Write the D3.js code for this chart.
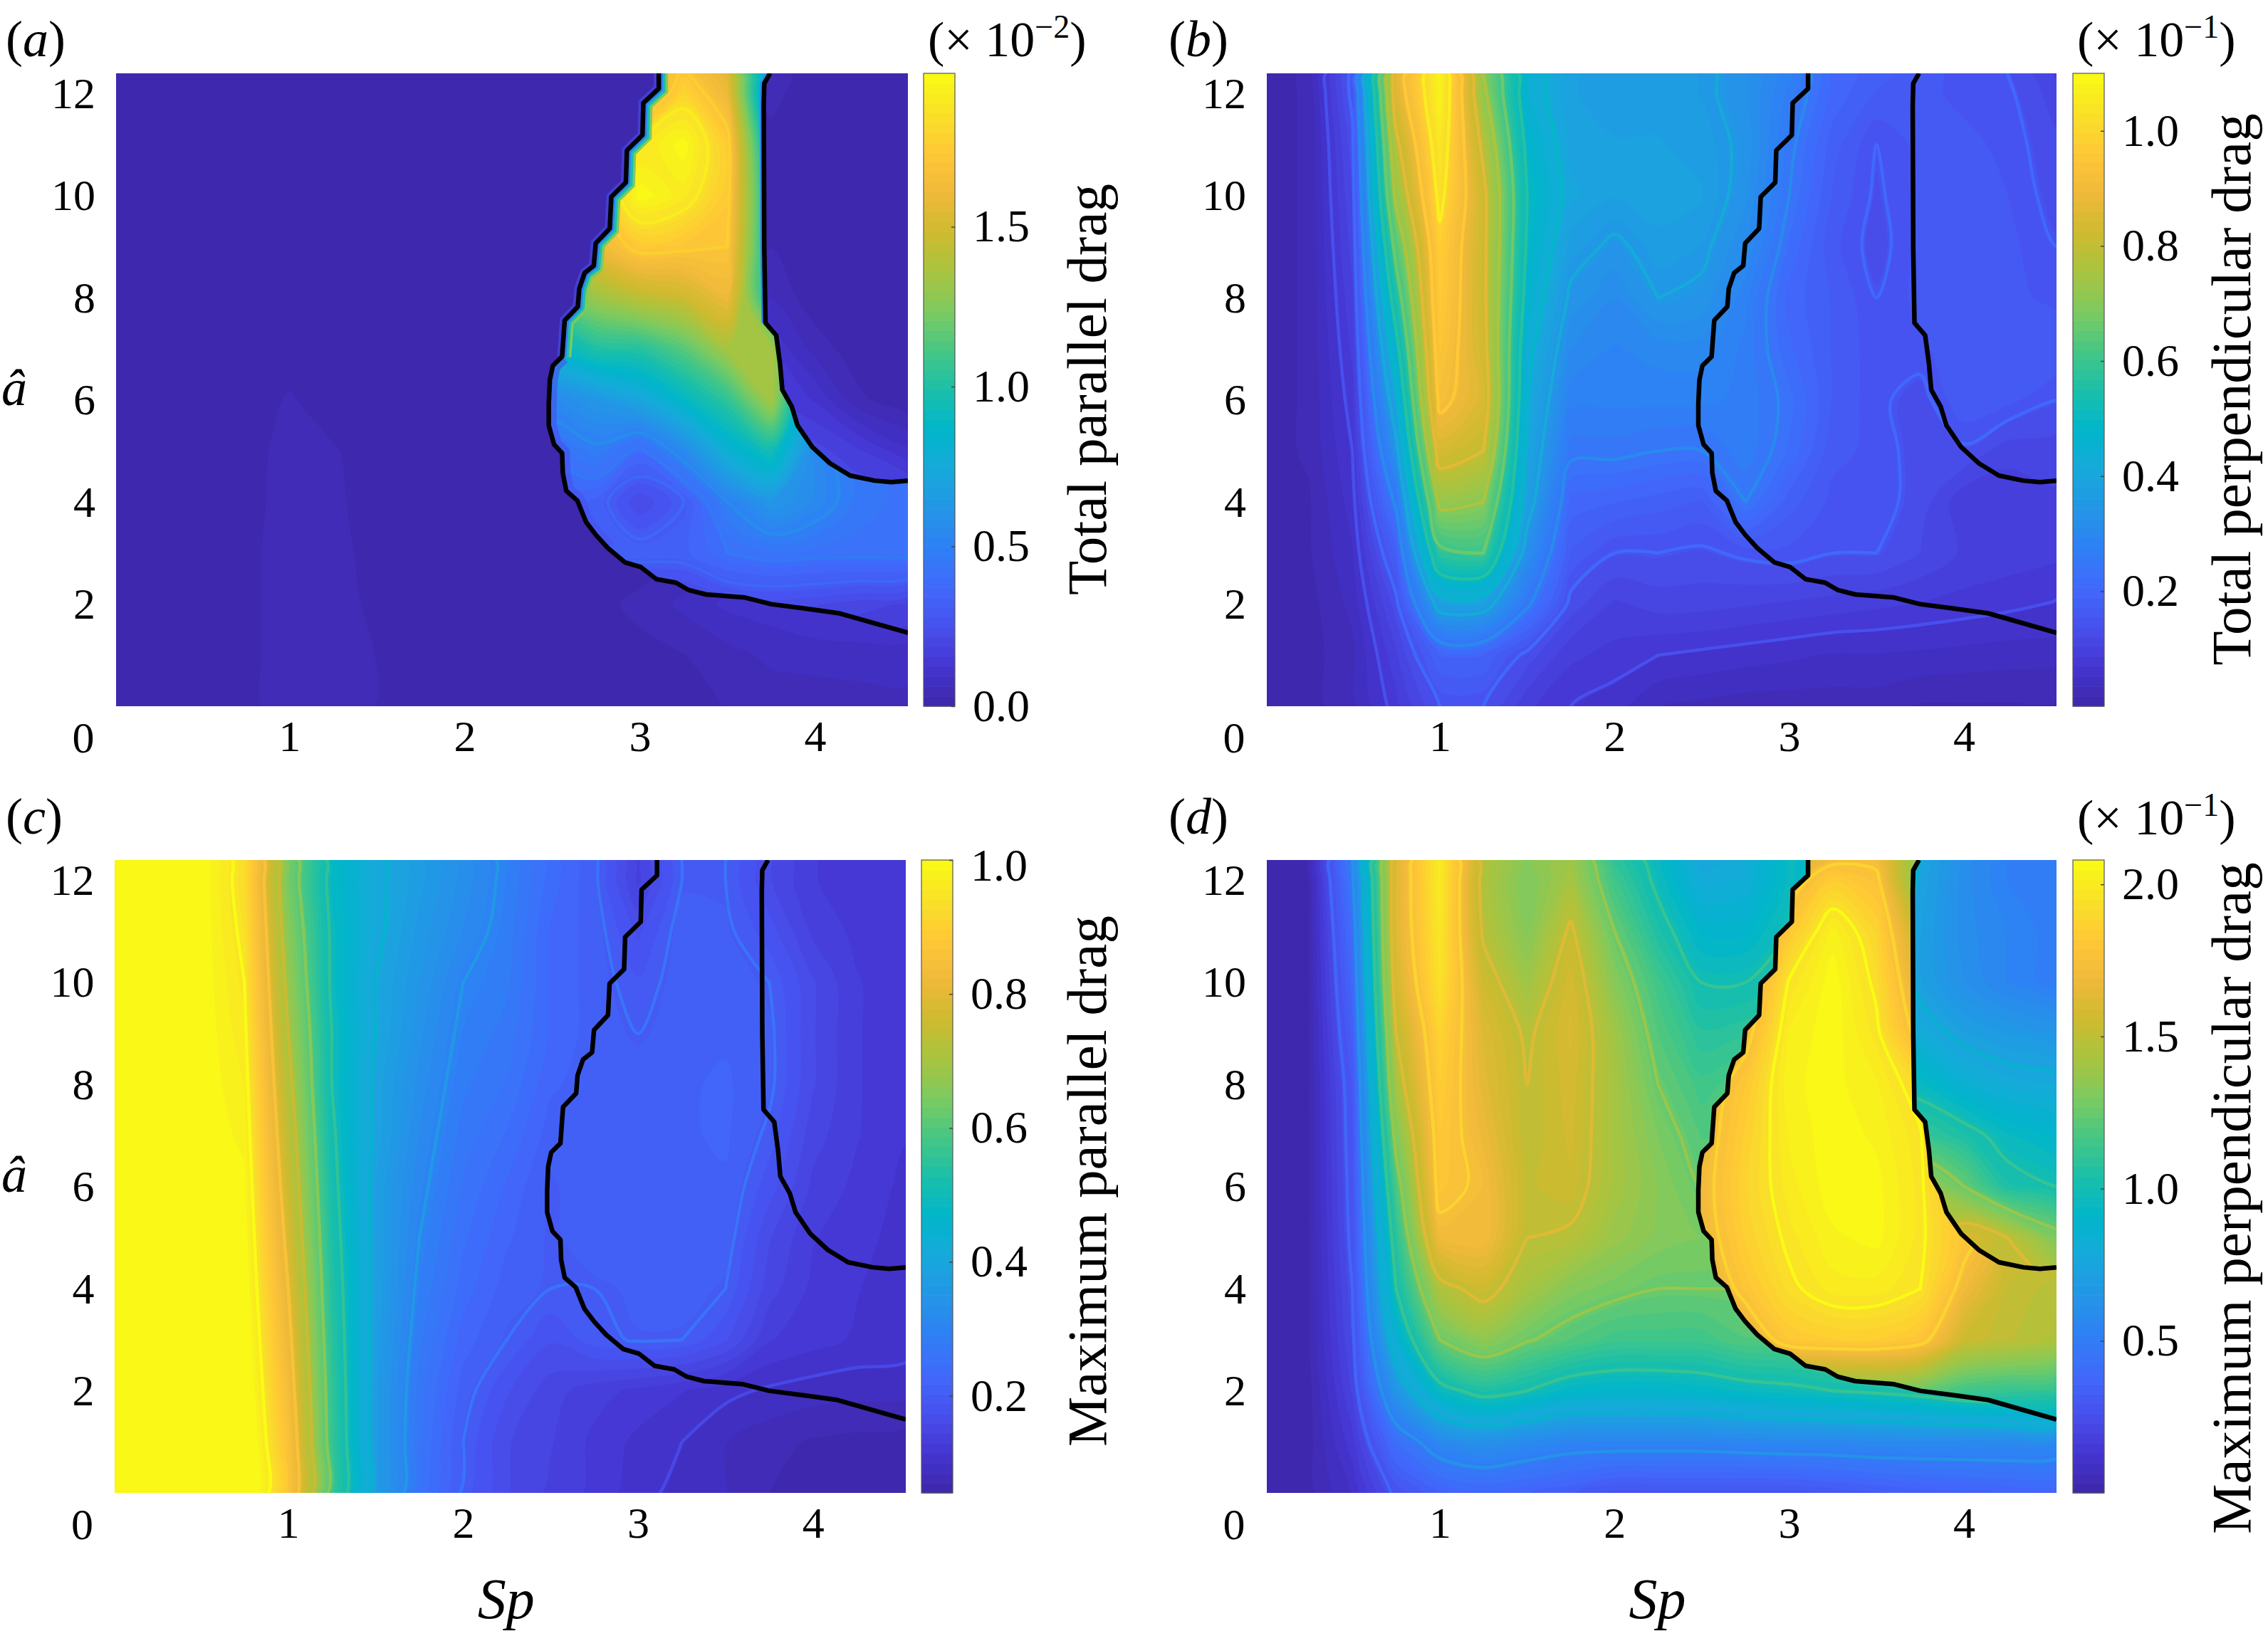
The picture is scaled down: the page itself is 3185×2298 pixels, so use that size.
<!DOCTYPE html>
<html>
<head>
<meta charset="utf-8">
<title>Drag maps</title>
<script src="https://cdn.jsdelivr.net/npm/d3@7"></script>
<style>
  body { margin: 0; background: #fff; }
  text { font-family: "Liberation Serif", serif; fill: #000; }
</style>
</head>
<body>
<svg id="chart" width="3185" height="2298" xmlns="http://www.w3.org/2000/svg"></svg>
<script>
// grid positions of the values
var spCols = [0.01, 0.25, 0.5, 0.75, 1, 1.25, 1.5, 1.75, 2, 2.25, 2.5, 2.75, 3, 3.25, 3.5, 3.75, 4, 4.25, 4.53];
var aRows = [12.4, 12, 11, 10, 9, 8, 7, 6, 5, 4, 3, 2, 1, 0];
var insideCols = [2.25, 2.5, 2.75, 3, 3.25, 3.5, 3.75, 4, 4.25, 4.53];
var insideRows = [12.4, 12, 11, 10, 9, 8, 7, 6, 5, 4, 3, 2, 1];

var xTicks = [1, 2, 3, 4];
var yTicks = [2, 4, 6, 8, 10, 12];

// black boundary, both branches run from the top edge to the right edge
var lowerBranch = [[3.108,12.4],[3.108,12.1],[3.02,11.82],[3.015,11.19],[2.926,10.89],[2.92,10.26],[2.837,9.98],[2.828,9.36],[2.748,9.07],[2.737,8.63],[2.685,8.49],[2.654,8.18],[2.646,7.83],[2.571,7.56],[2.556,6.85],[2.503,6.67],[2.486,6.39],[2.48,5.92],[2.48,5.5],[2.51,5.13],[2.556,4.96],[2.56,4.57],[2.58,4.22],[2.643,4.03],[2.693,3.61],[2.748,3.36],[2.817,3.1],[2.914,2.82],[3.004,2.73],[3.094,2.49],[3.206,2.42],[3.276,2.28],[3.378,2.19],[3.6,2.13],[3.75,2.0],[3.95,1.91],[4.14,1.82],[4.53,1.44]];
var upperBranch = [[3.743,12.4],[3.71,12.2],[3.707,11.79],[3.71,8.99],[3.717,7.51],[3.778,7.27],[3.8,6.71],[3.813,6.2],[3.867,5.87],[3.9,5.5],[3.984,5.08],[4.085,4.76],[4.2,4.52],[4.34,4.42],[4.435,4.39],[4.53,4.42]];

// parula colour stops
var parulaStops = ["#3d26a8","#4435d0","#4850ee","#4069fb","#2f80f5","#2296e6","#17a9da","#01b6ca","#1bbfa9","#46c785","#7dca5f","#a9c43f","#cfba2f","#f0b93a","#ffc836","#f9e127","#f9fb15"];

// (a) total parallel drag x 1e-2
var aOutside = [
  [.01,.01,.01,.01,.01,.01,.01,.01,.01,.01,.01,.01,.01,.01,.01,.05,.01,.01,.01],
  [.01,.01,.01,.01,.01,.01,.01,.01,.01,.01,.01,.01,.01,.01,.01,.04,.01,.01,.01],
  [.01,.01,.01,.01,.01,.01,.01,.01,.01,.01,.01,.01,.01,.01,.01,.02,.01,.01,.01],
  [.01,.01,.01,.01,.01,.01,.01,.01,.01,.01,.01,.01,.01,.01,.01,.02,.01,.01,.01],
  [.01,.01,.01,.01,.01,.01,.01,.01,.01,.01,.01,.01,.01,.01,.01,.03,.01,.01,.01],
  [.01,.01,.01,.01,.01,.01,.01,.01,.01,.01,.01,.01,.01,.01,.02,.06,.01,.01,.01],
  [.01,.01,.01,.01,.01,.01,.01,.01,.01,.01,.01,.01,.01,.01,.03,.12,.05,.01,.01],
  [.01,.01,.01,.01,.035,.01,.01,.01,.01,.01,.01,.01,.01,.01,.05,.16,.12,.04,.005],
  [.01,.01,.01,.01,.05,.035,.01,.01,.01,.01,.01,.01,.01,.01,.05,.2,.2,.16,.1],
  [.01,.01,.01,.015,.05,.04,.01,.01,.01,.01,.01,.01,.01,.01,.05,.2,.2,.22,.22],
  [.01,.01,.01,.02,.05,.045,.015,.01,.01,.01,.01,.01,.01,.03,.06,.1,.12,.15,.15],
  [.01,.01,.01,.02,.05,.05,.02,.01,.01,.01,.01,.02,.04,.07,.1,.11,.12,.13,.13],
  [.01,.01,.01,.02,.05,.05,.03,.01,.01,.01,.01,.01,.02,.03,.05,.07,.08,.08,.08],
  [.01,.01,.01,.02,.05,.05,.03,.01,.01,.01,.01,.01,.005,.005,.035,.04,.035,.045,.05]
];
var aInside = [
  [1.4,1.4,1.4,1.55,1.72,1.55,.6,.5,.5,.5],
  [1.3,1.3,1.3,1.5,1.8,1.6,.6,.5,.5,.5],
  [1.5,1.5,1.6,1.88,1.97,1.75,.8,.5,.5,.5],
  [1.4,1.5,1.7,1.97,1.9,1.74,.9,.5,.5,.5],
  [1.3,1.4,1.6,1.74,1.72,1.7,.9,.5,.5,.5],
  [1.1,1.15,1.32,1.42,1.48,1.6,.95,.6,.5,.5],
  [.8,.85,1,1.02,1.15,1.35,1.35,.6,.5,.5],
  [.55,.55,.62,.72,.88,1.05,1.35,.6,.5,.5],
  [.42,.42,.48,.38,.55,.8,.95,.55,.45,.42],
  [.3,.35,.33,.22,.3,.5,.62,.55,.45,.42],
  [.2,.25,.33,.33,.33,.4,.43,.42,.42,.42],
  [.1,.1,.12,.16,.18,.22,.23,.22,.2,.18],
  [.05,.05,.05,.08,.1,.12,.14,.14,.13,.12]
];

// (b) total perpendicular drag x 1e-1
var bField = [
  [.01,.02,.15,.85,1.08,.7,.45,.38,.37,.37,.36,.33,.28,.2,.18,.16,.15,.14,.1],
  [.01,.02,.15,.85,1.08,.72,.45,.38,.37,.37,.36,.33,.27,.2,.17,.16,.15,.145,.11],
  [.01,.02,.13,.78,1.05,.78,.48,.39,.38,.38,.37,.34,.25,.18,.14,.16,.16,.15,.125],
  [.01,.02,.12,.72,1.02,.82,.5,.4,.38,.39,.38,.33,.24,.17,.135,.16,.17,.155,.13],
  [.01,.02,.11,.63,.98,.82,.49,.37,.34,.37,.36,.31,.22,.16,.13,.16,.17,.16,.14],
  [.01,.02,.1,.55,.97,.82,.47,.34,.31,.35,.34,.28,.2,.17,.14,.16,.17,.16,.15],
  [.01,.02,.09,.47,.95,.83,.44,.31,.29,.3,.3,.27,.21,.17,.145,.15,.17,.17,.17],
  [.01,.02,.08,.4,.92,.85,.42,.28,.28,.28,.28,.27,.23,.17,.145,.13,.17,.16,.14],
  [.01,.02,.07,.33,.84,.8,.4,.25,.25,.24,.24,.27,.22,.16,.15,.13,.135,.11,.11],
  [.01,.015,.06,.25,.72,.7,.38,.2,.19,.18,.17,.24,.18,.15,.15,.13,.09,.09,.1],
  [.01,.015,.05,.18,.58,.6,.32,.17,.14,.14,.135,.145,.15,.14,.14,.12,.1,.095,.09],
  [.01,.01,.04,.13,.38,.38,.25,.13,.1,.11,.11,.105,.1,.095,.09,.085,.08,.075,.068],
  [.01,.01,.03,.1,.19,.19,.13,.09,.08,.07,.065,.06,.055,.05,.05,.048,.045,.042,.04],
  [.01,.01,.03,.08,.14,.14,.09,.07,.06,.035,.03,.025,.025,.025,.025,.015,.015,.015,.015]
];

// (c) maximum parallel drag
var cField = [
  [1,1,1,.93,.64,.48,.41,.37,.33,.29,.24,.205,.14,.2,.2,.16,.13,.12,.115],
  [1,1,1,.93,.64,.48,.41,.37,.33,.29,.24,.205,.14,.2,.2,.16,.13,.12,.115],
  [1,1,1,.94,.66,.49,.41,.36,.32,.285,.23,.21,.17,.21,.205,.18,.14,.125,.118],
  [1,1,1,.95,.68,.49,.4,.35,.3,.28,.23,.21,.19,.21,.21,.2,.16,.13,.12],
  [1,1,1,.96,.7,.5,.4,.34,.29,.27,.23,.21,.2,.21,.215,.205,.16,.13,.12],
  [1,1,1,.97,.72,.5,.39,.33,.28,.26,.22,.21,.21,.215,.22,.205,.16,.13,.12],
  [1,1,1,.98,.74,.51,.39,.32,.27,.245,.21,.215,.215,.215,.22,.195,.15,.13,.115],
  [1,1,1,.99,.76,.52,.38,.31,.26,.23,.2,.215,.215,.215,.215,.18,.14,.125,.11],
  [1,1,1,1,.78,.53,.38,.3,.25,.22,.2,.21,.21,.21,.21,.16,.13,.12,.107],
  [1,1,1,1.01,.8,.54,.38,.29,.24,.21,.2,.2,.205,.21,.2,.15,.125,.115,.105],
  [1,1,1,1.02,.82,.55,.375,.28,.225,.2,.175,.195,.202,.2,.175,.13,.12,.112,.108],
  [1,1,1,1.03,.84,.56,.37,.27,.21,.175,.15,.135,.125,.115,.105,.097,.092,.09,.09],
  [1,1,1,1.04,.86,.565,.37,.265,.2,.16,.145,.125,.11,.1,.085,.075,.068,.065,.062],
  [1,1,1,1.05,.87,.57,.37,.26,.195,.16,.14,.125,.105,.095,.085,.07,.06,.058,.056]
];

// (d) maximum perpendicular drag x 1e-1
var dOutside = [
  [.01,.03,.5,1.6,2,1.45,1.32,1.4,1.1,.95,.75,.8,.95,.9,.85,.75,.6,.52,.5],
  [.01,.03,.48,1.62,2,1.45,1.3,1.42,1.15,.97,.8,.82,.95,.9,.85,.74,.6,.52,.5],
  [.01,.03,.42,1.62,1.98,1.48,1.32,1.52,1.25,1.05,.9,.9,1,.95,.85,.72,.6,.55,.5],
  [.01,.03,.38,1.58,1.95,1.56,1.4,1.58,1.33,1.15,1,1,1.05,1,.9,.72,.62,.55,.5],
  [.01,.03,.34,1.5,1.88,1.62,1.48,1.6,1.4,1.2,1.08,1.1,1.1,1,.9,.8,.72,.68,.65],
  [.01,.03,.3,1.42,1.85,1.64,1.5,1.58,1.42,1.25,1.15,1.2,1.15,1.05,1,.95,.85,.8,.78],
  [.01,.03,.29,1.3,1.82,1.68,1.5,1.57,1.42,1.3,1.2,1.2,1.2,1.1,1.05,1.12,1.05,.95,.9],
  [.01,.03,.28,1.18,1.8,1.72,1.52,1.55,1.42,1.33,1.25,1.25,1.2,1.2,1.2,1.4,1.25,1.05,1],
  [.01,.03,.27,1.08,1.7,1.72,1.5,1.48,1.38,1.32,1.3,1.3,1.3,1.3,1.3,1.4,1.6,1.5,1.3],
  [.01,.03,.25,1,1.45,1.55,1.42,1.32,1.28,1.25,1.25,1.25,1.25,1.25,1.3,1.4,1.5,1.5,1.5],
  [.01,.03,.23,.85,1.25,1.35,1.26,1.2,1.15,1.15,1.15,1.2,1.2,1.25,1.3,1.35,1.4,1.4,1.4],
  [.01,.02,.2,.65,.95,1.05,1,.92,.9,.9,.92,.95,.97,1,1.02,1.05,1.1,1.12,1.15],
  [.01,.02,.15,.42,.57,.62,.58,.55,.55,.55,.55,.56,.57,.57,.58,.58,.58,.58,.57],
  [.01,.02,.1,.27,.35,.38,.36,.33,.28,.28,.28,.28,.28,.3,.32,.34,.35,.36,.36]
];
var dInside = [
  [1.4,1.4,1.4,1.55,1.72,1.72,1.3,1.2,1.2,1.2],
  [1.4,1.4,1.4,1.68,1.85,1.78,1.3,1.2,1.2,1.2],
  [1.4,1.4,1.5,1.82,2.03,1.88,1.5,1.3,1.3,1.3],
  [1.5,1.5,1.6,1.96,2.07,1.93,1.6,1.4,1.4,1.4],
  [1.6,1.6,1.7,2.02,2.07,1.97,1.7,1.4,1.4,1.4],
  [1.6,1.65,1.82,2.04,2.06,2.02,1.9,1.5,1.4,1.4],
  [1.6,1.68,1.86,2.02,2.07,2.04,1.96,1.6,1.5,1.4],
  [1.6,1.7,1.88,2,2.07,2.06,1.97,1.7,1.55,1.5],
  [1.6,1.68,1.86,1.97,2.04,2.06,1.97,1.8,1.6,1.55],
  [1.5,1.6,1.8,1.93,2,2,1.95,1.7,1.52,1.48],
  [1.4,1.5,1.62,1.82,1.85,1.85,1.8,1.55,1.5,1.45],
  [1.2,1.2,1.2,1.25,1.28,1.3,1.25,1.15,1.12,1.1],
  [.7,.7,.7,.7,.7,.7,.7,.7,.7,.7]
];

// panels
var panels = [
  {letter: "a", title: "Total parallel drag", exp: "\u22122", left: 163, right: 1275, top: 103, bottom: 992,
   cbLeft: 1297, cbRight: 1341, domain: [0, 1.98], cbTicks: [0, .5, 1, 1.5], field: aOutside, inside: aInside,
   lines: [], insideLines: [.3, .4, .5, 1.7, 1.85], lineOpacity: 0.55, titleX: 1553, titleY: 547, showA: true, showSp: false, rim: true,
   letterX: 8, letterY: 79, noteY: 79},
  {letter: "b", title: "Total perpendicular drag", exp: "\u22121", left: 1779, right: 2888, top: 103, bottom: 992,
   cbLeft: 2911, cbRight: 2955, domain: [0, 1.1], cbTicks: [.2, .4, .6, .8, 1], field: bField,
   lines: [.07, .14, .24, .35, .42, .5, .6, .7, .8, .9, 1], insideLines: [], lineOpacity: 1, titleX: 3160, titleY: 547, showA: false, showSp: false,
   letterX: 1641, letterY: 79, noteY: 79},
  {letter: "c", title: "Maximum parallel drag", exp: null, left: 161.5, right: 1272, top: 1208, bottom: 2097,
   cbLeft: 1294, cbRight: 1338, domain: [.055, 1], cbTicks: [.2, .4, .6, .8, 1], field: cField,
   lines: [.1, .2, .3, .4, .5, .6, .7, .8, .95], insideLines: [], lineOpacity: 1, titleX: 1553, titleY: 1659, showA: true, showSp: true,
   letterX: 8, letterY: 1171},
  {letter: "d", title: "Maximum perpendicular drag", exp: "\u22121", left: 1779, right: 2888, top: 1208, bottom: 2097,
   cbLeft: 2911, cbRight: 2955, domain: [0, 2.08], cbTicks: [.5, 1, 1.5, 2], field: dOutside, inside: dInside,
   lines: [.25, .5, .75, 1, 1.25, 1.5, 1.75], insideLines: [1.75, 1.95], lineOpacity: 1, titleX: 3160, titleY: 1683, showA: false, showSp: true,
   letterX: 1641, letterY: 1171, noteY: 1172}
];

var svg = d3.select("#chart");
svg.append("rect").attr("width", 3185).attr("height", 2298).attr("fill", "#fff");

var parula = d3.scaleLinear()
  .domain(parulaStops.map(function(c, i) { return i / (parulaStops.length - 1); }))
  .range(parulaStops)
  .interpolate(d3.interpolateRgb)
  .clamp(true);

var nLevels = 64;
var defs = svg.append("defs");
var ringLine = d3.line().curve(d3.curveCatmullRomClosed.alpha(0.5));

// filled contours of one grid plus the thin level lines on top
function drawField(g, grid, cols, rows, x, y, domain, lineLevels, lineOpacity) {
  var n = cols.length, m = rows.length;
  var values = d3.merge(grid);
  // d3.contours puts grid point i at i + 0.5
  var ix = d3.scaleLinear().domain(cols.map(function(c, i) { return i + 0.5; })).range(cols.map(x));
  var iy = d3.scaleLinear().domain(rows.map(function(r, j) { return j + 0.5; })).range(rows.map(y));
  // smooth the rings so the coarse grid does not show as kinks
  function path(mp) {
    return mp.coordinates.map(function(poly) {
      return poly.map(function(ring) {
        return ringLine(ring.slice(0, -1).map(function(p) { return [ix(p[0]), iy(p[1])]; }));
      }).join("");
    }).join("");
  }
  var color = d3.scaleLinear().domain(domain).range([0, 1]).clamp(true);
  var step = (domain[1] - domain[0]) / nLevels;
  var thresholds = d3.range(nLevels).map(function(i) { return domain[0] + i * step; });
  thresholds[0] = -1;

  var contours = d3.contours().size([n, m]).thresholds(thresholds);
  g.append("g").selectAll("path")
    .data(contours(values))
    .join("path")
      .attr("d", path)
      .attr("fill", function(d, i) { return parula(color(domain[0] + (i + 0.5) * step)); });

  if (lineLevels.length) {
    var lineContours = d3.contours().size([n, m]).thresholds(lineLevels);
    g.append("g").selectAll("path")
      .data(lineContours(values))
      .join("path")
        .attr("d", path)
        .attr("fill", "none")
        .attr("stroke", function(d) { return parula(color(d.value) + 0.06); })
        .attr("stroke-opacity", lineOpacity)
        .attr("stroke-width", 4.5)
        .attr("stroke-linejoin", "round");
  }
}

panels.forEach(function(p) {
  var x = d3.scaleLinear().domain([0.01, 4.53]).range([p.left, p.right]);
  var y = d3.scaleLinear().domain([0, 12.4]).range([p.bottom, p.top]);
  var branch = d3.line().x(function(d) { return x(d[0]); }).y(function(d) { return y(d[1]); });

  defs.append("clipPath").attr("id", "panel-" + p.letter)
    .append("rect").attr("x", p.left).attr("y", p.top)
    .attr("width", p.right - p.left).attr("height", p.bottom - p.top);
  defs.append("clipPath").attr("id", "inside-" + p.letter)
    .append("path").attr("d", branch(lowerBranch.concat(upperBranch.slice().reverse())) + "Z");

  var g = svg.append("g").attr("clip-path", "url(#panel-" + p.letter + ")");
  g.append("rect").attr("x", p.left).attr("y", p.top)
    .attr("width", p.right - p.left).attr("height", p.bottom - p.top)
    .attr("fill", parula(0));
  drawField(g, p.field, spCols, aRows, x, y, p.domain, p.lines, p.lineOpacity);

  if (p.inside) {
    var upperLeft = lowerBranch.filter(function(d) { return d[1] > 6.8; });
    var upperRight = upperBranch.filter(function(d) { return d[1] > 7.4; });
    if (p.rim) {
      // faint halo on the outer side of the stairs
      g.append("path").attr("d", branch(upperLeft)).attr("fill", "none")
        .attr("stroke", "#4850ee").attr("stroke-width", 14).attr("stroke-opacity", 0.55);
    }
    var gIn = g.append("g").attr("clip-path", "url(#inside-" + p.letter + ")");
    drawField(gIn, p.inside, insideCols, insideRows, x, y, p.domain, p.insideLines, p.lineOpacity);
    if (p.rim) {
      // thin steep rim just inside the boundary
      [[upperLeft, 26, "#7dca5f"], [upperLeft, 19, "#1bbfa9"],
       [upperLeft, 12, "#2f80f5"], [upperRight, 11, "#2f80f5"]].forEach(function(r) {
        gIn.append("path").attr("d", branch(r[0])).attr("fill", "none")
          .attr("stroke", r[2]).attr("stroke-width", r[1]);
      });
      gIn.append("path").attr("d", branch(lowerBranch.filter(function(d) { return d[1] <= 6.9 && d[1] > 3; })))
        .attr("fill", "none").attr("stroke", "#4850ee").attr("stroke-width", 22).attr("stroke-opacity", 0.6);
    }
  }

  [lowerBranch, upperBranch].forEach(function(b) {
    g.append("path").attr("d", branch(b)).attr("fill", "none")
      .attr("stroke", "#000").attr("stroke-width", 6.5).attr("stroke-linejoin", "round");
  });

  // axes
  var xAxis = svg.append("g")
    .attr("transform", "translate(0," + p.bottom + ")")
    .call(d3.axisBottom(x).tickValues(xTicks).tickSize(0).tickPadding(19).tickFormat(d3.format("d")));
  var yAxis = svg.append("g")
    .attr("transform", "translate(" + p.left + ",0)")
    .call(d3.axisLeft(y).tickValues(yTicks).tickSize(0).tickPadding(29).tickFormat(d3.format("d")));
  [xAxis, yAxis].forEach(function(a) {
    a.select(".domain").remove();
    a.selectAll("text").style("font-family", '"Liberation Serif", serif').style("font-size", "62px").attr("fill", "#000");
  });
  svg.append("text").attr("x", p.left - 46).attr("y", p.bottom + 65)
    .attr("text-anchor", "middle").attr("font-size", 62).text("0");

  // panel letter
  var lab = svg.append("text").attr("x", p.letterX).attr("y", p.letterY).attr("font-size", 72);
  lab.append("tspan").text("(");
  lab.append("tspan").attr("font-style", "italic").text(p.letter);
  lab.append("tspan").text(")");

  if (p.showA) {
    svg.append("text").attr("x", 20).attr("y", (p.top + p.bottom) / 2 + 21)
      .attr("text-anchor", "middle").attr("font-size", 72).attr("font-style", "italic").text("\u00e2");
  }
  if (p.showSp) {
    svg.append("text").attr("x", (p.left + p.right) / 2 - 6).attr("y", 2273)
      .attr("text-anchor", "middle").attr("font-size", 80).attr("font-style", "italic").text("Sp");
  }

  // colour bar
  var cb = d3.scaleLinear().domain(p.domain).range([p.bottom, p.top]);
  var cbStep = (p.domain[1] - p.domain[0]) / nLevels;
  svg.append("g").selectAll("rect")
    .data(d3.range(nLevels))
    .join("rect")
      .attr("x", p.cbLeft)
      .attr("width", p.cbRight - p.cbLeft)
      .attr("y", function(i) { return cb(p.domain[0] + (i + 1) * cbStep); })
      .attr("height", function(i) { return (p.bottom - p.top) / nLevels + 0.6; })
      .attr("fill", function(i) { return parula((i + 0.5) / nLevels); });
  svg.append("rect").attr("x", p.cbLeft).attr("y", p.top)
    .attr("width", p.cbRight - p.cbLeft).attr("height", p.bottom - p.top)
    .attr("fill", "none").attr("stroke", "#555").attr("stroke-width", 1.2);
  var cbAxis = svg.append("g")
    .attr("transform", "translate(" + p.cbRight + ",0)")
    .call(d3.axisRight(cb).tickValues(p.cbTicks).tickSize(-5).tickPadding(25).tickFormat(d3.format(".1f")));
  cbAxis.select(".domain").remove();
  cbAxis.selectAll("line").attr("stroke", "#444").attr("stroke-width", 1.5);
  cbAxis.selectAll("text").style("font-family", '"Liberation Serif", serif').style("font-size", "64px").attr("fill", "#000");
  // the top label of (c) sits a little below its tick
  if (p.letter === "c") cbAxis.selectAll("text").filter(function(d) { return d === 1; }).attr("dy", "0.45em");

  // rotated title and exponent note
  svg.append("text")
    .attr("transform", "translate(" + p.titleX + "," + p.titleY + ") rotate(-90)")
    .attr("text-anchor", "middle").attr("font-size", 79).text(p.title);

  if (p.exp) {
    var note = svg.append("text").attr("x", p.cbLeft + 6).attr("y", p.noteY).attr("font-size", 70);
    note.append("tspan").text("(\u00d7 10");
    note.append("tspan").attr("font-size", 46).attr("dy", -26).text(p.exp);
    note.append("tspan").attr("dy", 26).text(")");
  }
});
</script>
</body>
</html>
